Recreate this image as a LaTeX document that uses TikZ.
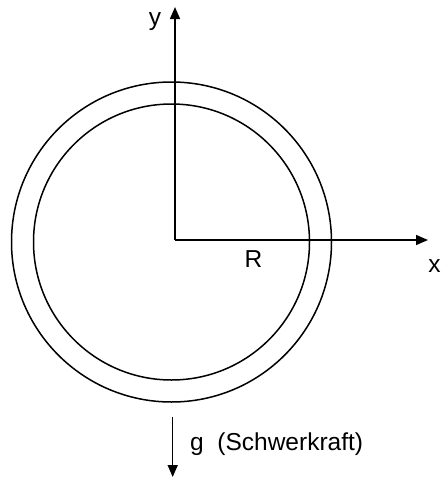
\documentclass[tikz,border=0pt]{standalone}
\usepackage{fontspec}
\setmainfont{Liberation Sans}
\usepackage{tikz}
\usetikzlibrary{arrows.meta, positioning}
\tikzstyle{ring}  = [draw=black, line width=1.5pt]
\tikzstyle{axis}  = [-{Triangle[length=12pt, width=10pt]}, line width=1.5pt]
\tikzstyle{label} = [inner sep=0pt, font=\fontsize{24.5}{29}\selectfont]

\begin{document}
\begin{tikzpicture}[x=1pt, y=-1pt]
    \useasboundingbox (0,0) rectangle (440,479);
    \coordinate (centre) at (171.5,242);
    \coordinate (origin) at (175,240);
    \coordinate (ytip) at (175,7);
    \coordinate (xtip) at (428,240);
    \coordinate (gtop) at (172.7,417);
    \coordinate (gtip) at (172.7,477);

    \draw[ring] (centre) circle (160pt);
    \draw[ring] (centre) circle (138pt);

    \draw[axis] (origin) -- (ytip);
    \draw[axis] (origin) -- (xtip);
    \draw[axis] (gtop) -- (gtip);

    \node (ylabel) [label] at (155,21.5) {y};
    \node (xlabel) [label] at (434.5,266) {x};
    \node (radius) [label] at (253.5,259.5) {R};
    \node (gravity) [label, anchor=base west] at (190,450) {g\ \ (Schwerkraft)};
\end{tikzpicture}
\end{document}
